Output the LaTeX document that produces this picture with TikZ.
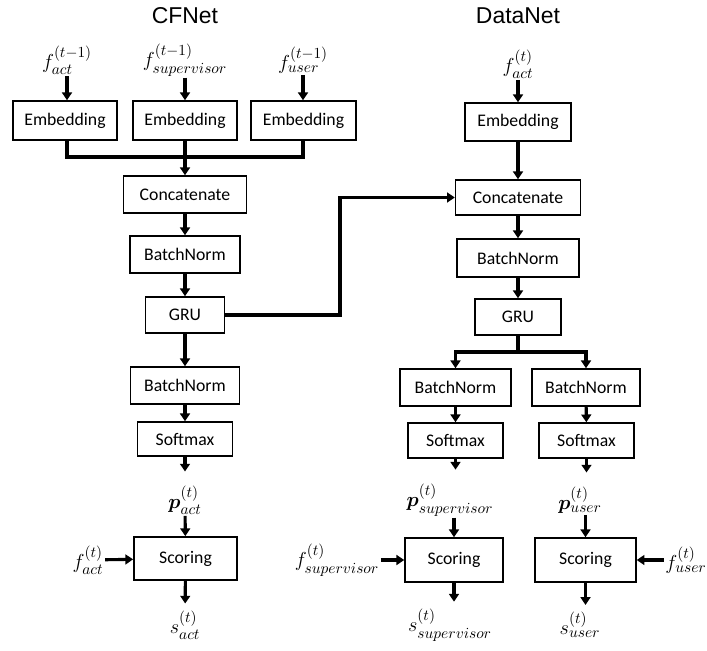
\documentclass[tikz,border=0pt]{standalone}
\usepackage{amsmath, amssymb, tikz}
\usepackage{fontspec}
\usetikzlibrary{arrows.meta}
\newfontfamily\boxfont{Carlito}
\newfontfamily\titlefont{Liberation Sans}

\tikzset{
    block/.style={draw, line width=1.1pt, inner sep=0pt, font=\boxfont\fontsize{12.6}{15}\selectfont},
    sym/.style={inner sep=1pt, font=\fontsize{15.5}{17}\selectfont},
    arr/.style={line width=2.2pt, -{Triangle[length=5.5pt,width=7pt]}},
    wire/.style={line width=2.2pt}
}

\begin{document}
\begin{tikzpicture}[x=0.025cm, y=-0.025cm]
    \useasboundingbox (0,0) rectangle (707,650);

    % Titles
    \node[font=\titlefont\fontsize{16.3}{18}\selectfont] (tcf) at (185,16) {CFNet};
    \node[font=\titlefont\fontsize{16.3}{18}\selectfont] (tdn) at (518,16) {DataNet};

    % Draw nodes (CFNet)
    \node[sym] (fA) at (67,60) {$f_{act}^{(t-1)}$};
    \node[sym] (fS) at (185,60) {$f_{supervisor}^{(t-1)}$};
    \node[sym] (fU) at (303,60) {$f_{user}^{(t-1)}$};
    \node[block, minimum width=2.6cm, minimum height=0.975cm] (embA) at (65,120.5) {Embedding};
    \node[block, minimum width=2.6cm, minimum height=0.975cm] (embS) at (185,120.5) {Embedding};
    \node[block, minimum width=2.62cm, minimum height=0.975cm] (embU) at (303.5,120.5) {Embedding};
    \node[block, minimum width=3.08cm, minimum height=0.925cm] (concL) at (185,194.5) {Concatenate};
    \node[block, minimum width=2.75cm, minimum height=0.925cm] (bnL1) at (185,254.5) {BatchNorm};
    \node[block, minimum width=1.98cm, minimum height=0.9cm] (gruL) at (185,315) {GRU};
    \node[block, minimum width=2.72cm, minimum height=0.925cm] (bnL2) at (185,385.5) {BatchNorm};
    \node[block, minimum width=2.38cm, minimum height=0.85cm] (smL) at (185,439) {Softmax};
    \node[sym] (pAct) at (185,500) {$\boldsymbol{p}_{act}^{(t)}$};
    \node[block, minimum width=2.58cm, minimum height=1.08cm] (scL) at (185.5,558.5) {Scoring};
    \node[sym] (fAT) at (88,560) {$f_{act}^{(t)}$};
    \node[sym] (sAct) at (185,625) {$s_{act}^{(t)}$};

    % Draw nodes (DataNet)
    \node[sym] (fAR) at (518,64) {$f_{act}^{(t)}$};
    \node[block, minimum width=2.65cm, minimum height=0.95cm] (embR) at (518,122) {Embedding};
    \node[block, minimum width=3.12cm, minimum height=0.875cm] (concR) at (518,197.5) {Concatenate};
    \node[block, minimum width=3.05cm, minimum height=0.95cm] (bnR) at (518,258) {BatchNorm};
    \node[block, minimum width=2.15cm, minimum height=0.9cm] (gruR) at (518,317) {GRU};
    \node[block, minimum width=2.78cm, minimum height=0.925cm] (bnS) at (455.5,387.5) {BatchNorm};
    \node[block, minimum width=2.7cm, minimum height=0.925cm] (bnU) at (586,387.5) {BatchNorm};
    \node[block, minimum width=2.38cm, minimum height=0.875cm] (smS) at (455.5,440.5) {Softmax};
    \node[block, minimum width=2.38cm, minimum height=0.875cm] (smU) at (586.5,440.5) {Softmax};
    \node[sym] (pS) at (450,500) {$\boldsymbol{p}_{supervisor}^{(t)}$};
    \node[sym] (pU) at (580,500) {$\boldsymbol{p}_{user}^{(t)}$};
    \node[block, minimum width=2.45cm, minimum height=1.1cm] (scS) at (454,560) {Scoring};
    \node[block, minimum width=2.52cm, minimum height=1.1cm] (scU) at (585.5,560) {Scoring};
    \node[sym] (fST) at (337,560) {$f_{supervisor}^{(t)}$};
    \node[sym] (fUT) at (686,560) {$f_{user}^{(t)}$};
    \node[sym] (sS) at (450,625) {$s_{supervisor}^{(t)}$};
    \node[sym] (sU) at (580,625) {$s_{user}^{(t)}$};

    % Helper points
    \coordinate (jL) at (185,157);
    \coordinate (gturn) at (340,250);
    \coordinate (split) at (518,352);

    % Draw connections (CFNet)
    \draw[arr] (fA) -- (embA.north -| fA);
    \draw[arr] (fS) -- (embS);
    \draw[arr] (fU) -- (embU.north -| fU);
    \draw[wire] (embA.south -| fA) |- (jL) -| (embU.south -| fU);
    \draw[arr] (embS) -- (concL);
    \draw[arr] (concL) -- (bnL1);
    \draw[arr] (bnL1) -- (gruL);
    \draw[arr] (gruL) -- (bnL2);
    \draw[arr] (bnL2) -- (smL);
    \draw[arr, shorten >=9pt] (smL) -- (pAct);
    \draw[arr] (pAct) -- (scL);
    \draw[arr] (fAT) -- (scL);
    \draw[arr, shorten >=4pt] (scL) -- (sAct);

    % Draw connections (DataNet)
    \draw[arr] (gruL.east) -| (gturn) |- (concR.west);
    \draw[arr] (fAR) -- (embR);
    \draw[arr] (embR) -- (concR);
    \draw[arr] (concR) -- (bnR);
    \draw[arr] (bnR) -- (gruR);
    \draw[wire] (gruR) -- (split);
    \draw[arr] (split) -| (bnS.north);
    \draw[arr] (split) -| (bnU.north);
    \draw[arr] (bnS) -- (smS);
    \draw[arr] (bnU) -- (smU);
    \draw[arr, shorten >=9pt] (smS.south) -- (smS.south |- pS.north);
    \draw[arr, shorten >=9pt] (smU.south) -- (smU.south |- pU.north);
    \draw[arr] (pS.south -| scS) -- (scS);
    \draw[arr] (pU.south -| scU) -- (scU);
    \draw[arr] (fST) -- (scS);
    \draw[arr] (fUT) -- (scU);
    \draw[arr, shorten >=4pt] (scS.south) -- (scS.south |- sS.north);
    \draw[arr, shorten >=4pt] (scU.south) -- (scU.south |- sU.north);
\end{tikzpicture}
\end{document}
